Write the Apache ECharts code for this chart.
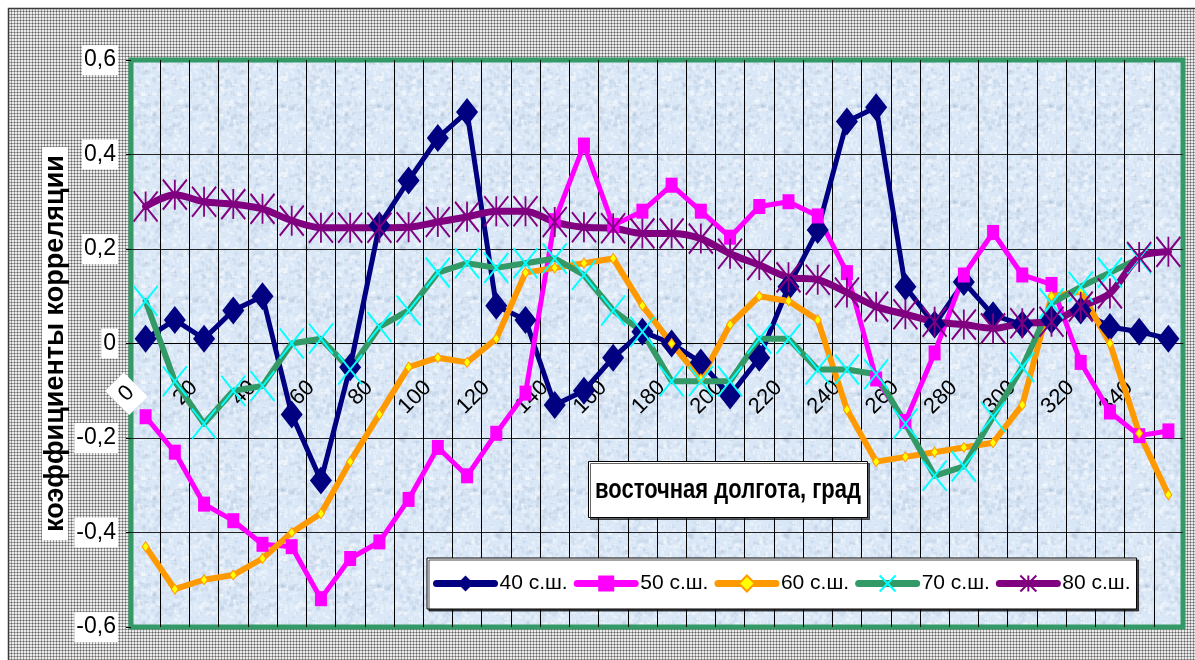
<!DOCTYPE html>
<html>
<head>
<meta charset="utf-8">
<script src="https://cdn.jsdelivr.net/npm/echarts@6/dist/echarts.min.js"></script>
<style>
  html, body { margin: 0; padding: 0; background: #ffffff; }
  #chart { width: 1195px; height: 660px; }
</style>
</head>
<body>
<div id="chart"></div>
<script>
// Longitude categories, degrees east
const longitudes = ['0','10','20','30','40','50','60','70','80','90','100','110','120','130','140','150','160','170',
                    '180','190','200','210','220','230','240','250','260','270','280','290','300','310','320','330','340','350'];

// Correlation coefficients per latitude band
const lat40 = [0.01, 0.05, 0.01, 0.07, 0.10, -0.15, -0.29, -0.05, 0.25, 0.345, 0.435, 0.49, 0.08, 0.05, -0.13, -0.10, -0.03, 0.025,
               0.00, -0.04, -0.11, -0.03, 0.12, 0.24, 0.47, 0.50, 0.12, 0.04, 0.13, 0.06, 0.04, 0.05, 0.07, 0.035, 0.025, 0.01];
const lat50 = [-0.155, -0.23, -0.34, -0.375, -0.425, -0.43, -0.54, -0.455, -0.42, -0.33, -0.22, -0.28, -0.19, -0.105, 0.26, 0.42, 0.25, 0.28,
               0.335, 0.28, 0.225, 0.29, 0.30, 0.27, 0.15, -0.075, -0.165, -0.02, 0.145, 0.235, 0.145, 0.125, -0.04, -0.145, -0.195, -0.185];
const lat60 = [-0.43, -0.52, -0.50, -0.49, -0.455, -0.40, -0.36, -0.25, -0.15, -0.05, -0.03, -0.04, 0.01, 0.15, 0.16, 0.17, 0.18, 0.08,
               0.00, -0.075, 0.04, 0.10, 0.09, 0.05, -0.14, -0.25, -0.24, -0.23, -0.22, -0.21, -0.13, 0.10, 0.11, 0.00, -0.19, -0.32];
const lat70 = [0.09, -0.08, -0.17, -0.10, -0.09, 0.00, 0.01, -0.055, 0.035, 0.07, 0.15, 0.17, 0.16, 0.17, 0.18, 0.145, 0.07, 0.025,
               -0.08, -0.08, -0.08, 0.01, 0.01, -0.055, -0.055, -0.065, -0.17, -0.28, -0.26, -0.155, -0.05, 0.085, 0.12, 0.15, 0.18, null];
const lat80 = [0.29, 0.315, 0.30, 0.295, 0.285, 0.26, 0.245, 0.245, 0.245, 0.246, 0.257, 0.268, 0.28, 0.28, 0.257, 0.246, 0.244, 0.233,
               0.233, 0.222, 0.19, 0.166, 0.14, 0.135, 0.108, 0.078, 0.062, 0.046, 0.04, 0.032, 0.043, 0.046, 0.078, 0.106, 0.183, 0.194];

const seriesNames = ['40 с.ш.', '50 с.ш.', '60 с.ш.', '70 с.ш.', '80 с.ш.'];
const xTitle = 'восточная долгота, град';
const yTitle = 'коэффициенты корреляции';

const FONT = '"Liberation Sans", Arial, sans-serif';

// Plot rectangle; the category axis is drawn along the zero line
const PLOT = { left: 131, top: 60, width: 1052, height: 567 };
const Y_MIN = -0.6, Y_MAX = 0.6;
const zeroOffset = -PLOT.height * (0 - Y_MIN) / (Y_MAX - Y_MIN);

// Halftone dot tile for the chart surround
function dotTile() {
  const c = document.createElement('canvas');
  c.width = 3; c.height = 3;
  const g = c.getContext('2d');
  g.fillStyle = '#ececec'; g.fillRect(0, 0, 3, 3);
  g.fillStyle = '#a2a2a2'; g.fillRect(2, 0, 1, 3); g.fillRect(0, 2, 3, 1);
  g.fillStyle = '#666666'; g.fillRect(2, 2, 1, 1);
  return c;
}

// Light blue paper tile for the plot area
function paperTile() {
  const n = 96;
  const c = document.createElement('canvas');
  c.width = n; c.height = n;
  const g = c.getContext('2d');
  g.fillStyle = '#d9e7f6'; g.fillRect(0, 0, n, n);
  let s = 12345;
  const next = () => { s = (s * 1103515245 + 12345) & 0x7fffffff; return s / 0x7fffffff; };
  for (let k = 0; k < 700; k++) {
    const x = next() * n, y = next() * n, w = 1 + next() * 4, h = 1 + next() * 4;
    g.fillStyle = next() < 0.55 ? 'rgba(255,255,255,0.35)' : 'rgba(150,170,200,0.16)';
    g.fillRect(x, y, w, h);
  }
  return c;
}

const X_MARK = 'path://M0,0L10,12M10,0L0,12';
const STAR_MARK = 'path://M0,0L10,12M10,0L0,12M5,0L5,12';

function line(name, data, color, width, symbol, size, itemStyle, extra) {
  return Object.assign({
    name, type: 'line', data,
    symbol, symbolSize: size, showAllSymbol: true,
    lineStyle: { color, width, join: 'round', cap: 'round' },
    itemStyle,
    emphasis: { disabled: true },
    z: 3
  }, extra || {});
}

const chart = echarts.init(document.getElementById('chart'));
chart.setOption({
  animation: false,
  backgroundColor: '#ffffff',
  textStyle: { fontFamily: FONT },
  grid: {
    left: PLOT.left, top: PLOT.top, width: PLOT.width, height: PLOT.height,
    outerBoundsMode: 'none', containLabel: false,
    show: true,
    backgroundColor: { image: paperTile(), repeat: 'repeat' },
    borderColor: '#339966', borderWidth: 5
  },
  xAxis: {
    type: 'category',
    data: longitudes,
    boundaryGap: true,
    position: 'bottom',
    offset: zeroOffset,
    axisLine: { onZero: false, lineStyle: { color: '#000', width: 1 } },
    axisTick: { show: false },
    axisLabel: {
      interval: 1, rotate: 45, margin: 31,
      padding: [0, 14, 0, 0],
      fontSize: 22, color: '#000', fontFamily: FONT,
      formatter: (v, i) => i === 0 ? '{z|' + v + '}' : v,
      rich: { z: { fontSize: 22, fontFamily: FONT, color: '#000', backgroundColor: '#fff', padding: [6, 7] } }
    },
    splitLine: { show: true, interval: 0, showMinLine: false, showMaxLine: false, lineStyle: { color: '#000', width: 1 } }
  },
  yAxis: {
    type: 'value', min: Y_MIN, max: Y_MAX, interval: 0.2,
    axisLine: { show: false },
    axisTick: { show: true, length: 5, lineStyle: { color: '#000' } },
    axisLabel: {
      margin: 13, fontSize: 23, color: '#000', fontFamily: FONT,
      backgroundColor: '#fff', padding: [4, 2, 3, 2],
      formatter: v => { const r = Math.round(v * 10) / 10; return r === 0 ? '0' : r.toFixed(1).replace('.', ','); }
    },
    splitLine: { show: true, showMinLine: false, showMaxLine: false, lineStyle: { color: '#222', width: 1 } }
  },
  legend: {
    left: 427, top: 558,
    itemWidth: 58, itemHeight: 20, itemGap: 6,
    backgroundColor: '#fff', borderColor: '#000', borderWidth: 1,
    padding: [15, 6, 15, 6],
    shadowColor: 'rgba(0,0,0,0.7)', shadowOffsetX: 2, shadowOffsetY: 2,
    selectedMode: false,
    textStyle: { fontSize: 21, color: '#000', fontFamily: FONT },
    lineStyle: { width: 7, cap: 'round' },
    data: seriesNames
  },
  series: [
    line(seriesNames[0], lat40, '#000080', 5, 'diamond', [22, 28], { color: '#000080' }),
    line(seriesNames[1], lat50, '#ff00ff', 5, 'rect', [12, 15], { color: '#ff00ff' }),
    line(seriesNames[2], lat60, '#ff9900', 6, 'diamond', [7, 10], { color: '#ffff00', borderColor: '#ff9900', borderWidth: 1 }),
    line(seriesNames[3], lat70, '#339966', 6, X_MARK, [24, 30], { color: '#00ffff', borderColor: '#00ffff', borderWidth: 2 }),
    line(seriesNames[4], lat80, '#800080', 7, STAR_MARK, [24, 30], { color: '#800080', borderColor: '#800080', borderWidth: 2 }, { smooth: 0.3 })
  ],
  graphic: {
    elements: [
      {
        type: 'rect', z: -10, silent: true,
        shape: { x: 8.5, y: 8.5, width: 1195, height: 660 },
        style: { fill: { image: dotTile(), repeat: 'repeat' }, stroke: '#3a3a3a', lineWidth: 1.5 }
      },
      {
        type: 'rect', z: 100, silent: true,
        shape: { x: 42, y: 147, width: 26, height: 393 },
        style: { fill: '#fff' }
      },
      {
        type: 'text', z: 101, silent: true,
        x: 56, y: 343.5, rotation: Math.PI / 2,
        style: { text: yTitle, font: 'bold 27px ' + FONT, fill: '#000', align: 'center', verticalAlign: 'middle', textAlign: 'center', textVerticalAlign: 'middle' }
      },
      {
        type: 'rect', z: 100, silent: true,
        shape: { x: 588.5, y: 461.5, width: 279, height: 56 },
        style: { fill: '#fff', stroke: '#000', lineWidth: 1, shadowColor: 'rgba(0,0,0,0.6)', shadowOffsetX: 2, shadowOffsetY: 2 }
      },
      {
        type: 'text', z: 101, silent: true,
        x: 728, y: 490, scaleY: 1.25,
        style: { text: xTitle, font: 'bold 22px ' + FONT, fill: '#000', align: 'center', verticalAlign: 'middle', textAlign: 'center', textVerticalAlign: 'middle' }
      }
    ]
  }
});
</script>
</body>
</html>
